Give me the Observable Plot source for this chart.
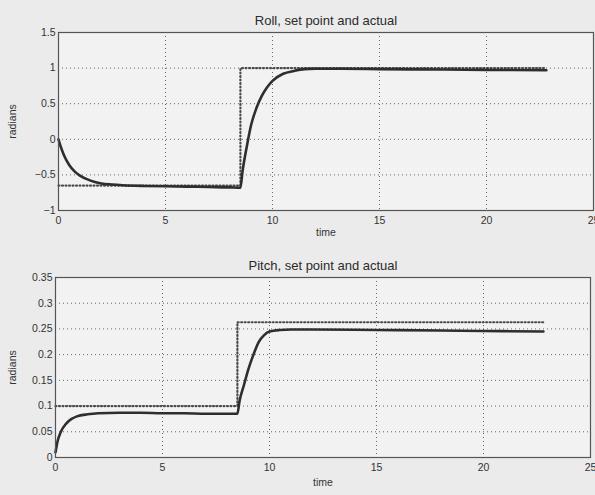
<!DOCTYPE html>
<html>
<head>
<meta charset="utf-8">
<script src="https://cdn.jsdelivr.net/npm/d3@7"></script>
<script src="https://cdn.jsdelivr.net/npm/@observablehq/plot@0.6"></script>
<style>
  html, body { margin: 0; padding: 0; background: #ebebeb; }
  #wrap { width: 595px; height: 495px; overflow: hidden; }
  svg { display: block; }
</style>
</head>
<body>
<div id="wrap"></div>
<script>
// ---- data ----
const xTicks = [0, 5, 10, 15, 20, 25];
const rollTicks = [-1, -0.5, 0, 0.5, 1, 1.5];
const pitchTicks = [0, 0.05, 0.1, 0.15, 0.2, 0.25, 0.3, 0.35];

const rollT      = [0, 0.1, 0.25, 0.5, 0.75, 1.0, 1.5, 2.0, 2.5, 3, 4, 5, 6, 7, 8, 8.5, 8.6, 8.8, 9.0, 9.25, 9.5, 9.75, 10, 10.5, 11, 11.5, 12, 13, 15, 18, 20, 22.8];
const rollActual = [0, -0.1, -0.22, -0.36, -0.45, -0.51, -0.58, -0.62, -0.635, -0.645, -0.655, -0.66, -0.665, -0.67, -0.675, -0.68, -0.45, -0.1, 0.2, 0.44, 0.61, 0.73, 0.82, 0.92, 0.96, 0.985, 0.99, 0.99, 0.985, 0.98, 0.975, 0.97];
const rollSetT   = [0, 8.5, 8.5, 22.8];
const rollSetY   = [-0.65, -0.65, 1.0, 1.0];

const pitchT      = [0, 0.05, 0.1, 0.25, 0.5, 0.75, 1.0, 1.5, 2.0, 3, 4, 5, 6, 7, 8, 8.5, 8.6, 8.8, 9.0, 9.25, 9.5, 9.75, 10, 10.5, 11, 12, 15, 18, 20, 22.8];
const pitchActual = [0.01, 0.022, 0.032, 0.05, 0.066, 0.075, 0.08, 0.084, 0.086, 0.087, 0.087, 0.086, 0.086, 0.085, 0.085, 0.085, 0.11, 0.14, 0.17, 0.2, 0.225, 0.238, 0.245, 0.248, 0.249, 0.249, 0.248, 0.247, 0.246, 0.245];
const pitchSetT   = [0, 8.5, 8.5, 22.8];
const pitchSetY   = [0.1, 0.1, 0.263, 0.263];

const fmt = d => String(d).replace("-", "\u2212");

function panel({title, t, actual, setT, setY, yDomain, yTicks, height, mTop, mBottom, mLeft, mRight, xLabelOffset}) {
  const act = t.map((x, i) => ({x, y: actual[i]}));
  const sp = setT.map((x, i) => ({x, y: setY[i]}));
  return Plot.plot({
    width: 595,
    height,
    marginTop: mTop,
    marginBottom: mBottom,
    marginLeft: mLeft,
    marginRight: mRight,
    style: {background: "transparent", fontFamily: "'Liberation Sans', Arial, sans-serif", fontSize: "10.5px", color: "#333"},
    x: {domain: [0, 25], ticks: xTicks, tickSize: 0, tickPadding: 6, label: "time", labelAnchor: "center", labelArrow: "none", labelOffset: xLabelOffset, tickFormat: fmt},
    y: {domain: yDomain, ticks: yTicks, tickSize: 0, tickPadding: 3, label: "radians", labelAnchor: "center", labelArrow: "none", labelOffset: mLeft - 8, tickFormat: fmt},
    marks: [
      Plot.frame({fill: "#f2f2f2"}),
      Plot.gridX(xTicks, {stroke: "#555", strokeOpacity: 0.9, strokeDasharray: "1,3"}),
      Plot.gridY(yTicks, {stroke: "#555", strokeOpacity: 0.9, strokeDasharray: "1,3"}),
      Plot.line(sp, {x: "x", y: "y", stroke: "#4a4a4a", strokeWidth: 2.2, strokeDasharray: "1,2.5"}),
      Plot.line(act, {x: "x", y: "y", stroke: "#2e2e2e", strokeWidth: 2.6, curve: "monotone-x"}),
      Plot.frame({stroke: "#555", strokeWidth: 1.2}),
      Plot.text([title], {frameAnchor: "top", dy: -8, fontSize: 13, fill: "#2a2a2a", lineAnchor: "bottom"})
    ]
  });
}

const wrap = document.getElementById("wrap");
wrap.appendChild(panel({
  title: "Roll, set point and actual",
  t: rollT, actual: rollActual, setT: rollSetT, setY: rollSetY,
  yDomain: [-1, 1.5], yTicks: rollTicks,
  height: 250, mTop: 32, mBottom: 40, mLeft: 58, mRight: 2, xLabelOffset: 25
}));
wrap.appendChild(panel({
  title: "Pitch, set point and actual",
  t: pitchT, actual: pitchActual, setT: pitchSetT, setY: pitchSetY,
  yDomain: [0, 0.35], yTicks: pitchTicks,
  height: 245, mTop: 27, mBottom: 38, mLeft: 55, mRight: 5, xLabelOffset: 28
}));
</script>
</body>
</html>
